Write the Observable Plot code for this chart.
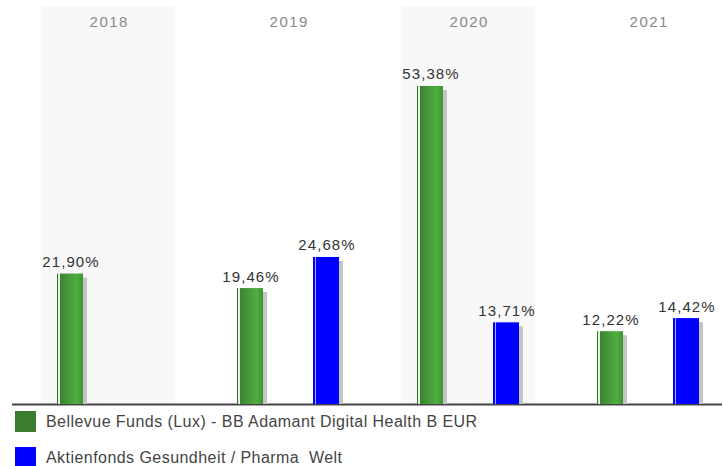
<!DOCTYPE html>
<html>
<head>
<meta charset="utf-8">
<script src="https://cdn.jsdelivr.net/npm/d3@7"></script>
<script src="https://cdn.jsdelivr.net/npm/@observablehq/plot@0.6"></script>
<style>
  body { margin: 0; background: #fff; font-family: "Liberation Sans", Arial, sans-serif; }
  #legend { position: relative; height: 56px; }
  .row { position: absolute; left: 15px; display: flex; align-items: center; font-size: 16px; color: #444; letter-spacing: 0.45px; }
  .sw { width: 21px; height: 21px; margin-right: 10px; }
</style>
</head>
<body>
<div id="chart"></div>
<div id="legend"></div>
<script>
const years = ["2018", "2019", "2020", "2021"];
const shadedYears = ["2018", "2020"];
const seriesNames = ["Bellevue Funds (Lux) - BB Adamant Digital Health B EUR", "Aktienfonds Gesundheit / Pharma  Welt"];
const seriesColors = ["#3a7d2e", "#0000ff"];
const fundYears = ["2018", "2019", "2020", "2021"];
const fundValues = [21.90, 19.46, 53.38, 12.22];
const peerYears = ["2019", "2020", "2021"];
const peerValues = [24.68, 13.71, 14.42];

const fund = fundYears.map((y, i) => ({year: y, value: fundValues[i]}));
const peer = peerYears.map((y, i) => ({year: y, value: peerValues[i]}));
const fmt = v => v.toFixed(2).replace(".", ",") + "%";
const yMax = 66.64;
const off = 38, inset = 77;

const barSet = (data, dx, fill) => [
  Plot.barY(data, {x: "year", y: "value", dx: dx + 4, insetLeft: inset, insetRight: inset, insetTop: 4, fill: "#c4c4c4"}),
  Plot.barY(data, {x: "year", y: "value", dx, insetLeft: inset, insetRight: inset, fill}),
  Plot.text(data, {x: "year", y: "value", dx: dx + 0.5, dy: -7, lineAnchor: "bottom", text: d => fmt(d.value), fill: "#333", fontSize: 15})
];

const chart = Plot.plot({
  width: 723,
  height: 410,
  marginTop: 7,
  marginBottom: 6,
  marginLeft: 12,
  marginRight: 1,
  style: {fontFamily: "'Liberation Sans', Arial, sans-serif", background: "#fff"},
  x: {type: "band", domain: years, range: [18, 738], padding: 0, axis: null},
  y: {domain: [0, yMax], axis: null},
  marks: [
    Plot.barY(shadedYears, {x: d => d, y: () => yMax, insetLeft: 23, insetRight: 23, fill: "#f8f8f8"}),
    Plot.text(years, {x: d => d, frameAnchor: "top", dy: 15, dx: 0.75, lineAnchor: "middle", text: d => d, fill: "#888", fontSize: 15}),
    Plot.ruleY([0], {stroke: "#444", strokeWidth: 2}),
    ...barSet(fund, -off, "url(#gGreen)"),
    ...barSet(peer, off, "url(#gBlue)")
  ]
});

chart.querySelectorAll('g[fill="#888"] text').forEach(t => t.style.letterSpacing = "1.5px");
chart.querySelectorAll('g[fill="#333"] text').forEach(t => t.style.letterSpacing = "1.1px");

const ns = "http://www.w3.org/2000/svg";
const defs = document.createElementNS(ns, "defs");
defs.innerHTML = `
<linearGradient id="gGreen" x1="0" x2="1" y1="0" y2="0">
  <stop offset="0" stop-color="#2f7326"/><stop offset="0.05" stop-color="#2f7326"/>
  <stop offset="0.05" stop-color="#e6efe4"/><stop offset="0.1" stop-color="#e6efe4"/>
  <stop offset="0.1" stop-color="#3a8230"/><stop offset="0.75" stop-color="#4fae40"/>
  <stop offset="1" stop-color="#3f9233"/>
</linearGradient>
<linearGradient id="gBlue" x1="0" x2="1" y1="0" y2="0">
  <stop offset="0" stop-color="#0000ff"/><stop offset="0.06" stop-color="#0000ff"/>
  <stop offset="0.06" stop-color="#a8a8ff"/><stop offset="0.11" stop-color="#a8a8ff"/>
  <stop offset="0.11" stop-color="#0000ff"/><stop offset="1" stop-color="#0000ff"/>
</linearGradient>`;
chart.insertBefore(defs, chart.firstChild);
document.getElementById("chart").appendChild(chart);

const legend = document.getElementById("legend");
seriesNames.forEach((name, i) => {
  const row = document.createElement("div");
  row.className = "row";
  row.style.top = (1 + i * 36) + "px";
  row.innerHTML = `<div class="sw" style="background:${seriesColors[i]}"></div><span style="white-space:pre">${name}</span>`;
  legend.appendChild(row);
});
</script>
</body>
</html>
